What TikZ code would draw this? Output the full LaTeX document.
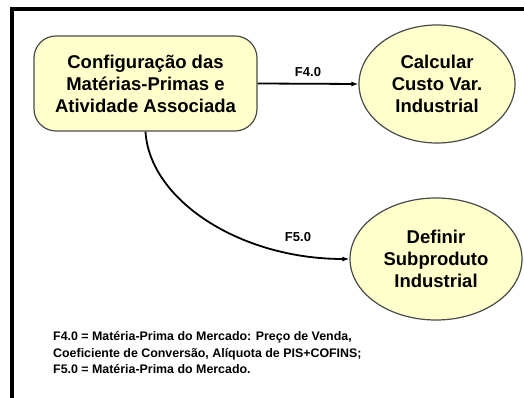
\documentclass[tikz,border=0pt]{standalone}
\usepackage{fontspec}
\setmainfont{Liberation Sans}
\usetikzlibrary{shapes.geometric,arrows.meta}
\definecolor{procfill}{HTML}{FFFFCC}
\definecolor{procline}{HTML}{4A4A4A}

\begin{document}
\begin{tikzpicture}[x=1pt,y=1pt,
    proc/.style={draw=procline,line width=1.2pt,fill=procfill,align=center,inner sep=0pt,
        font=\bfseries\fontsize{18.5}{22}\selectfont},
    flow/.style={line width=1.8pt,-{Latex[length=7pt,width=5pt]}},
    flowlabel/.style={font=\bfseries\fontsize{13}{15}\selectfont}]
        \useasboundingbox (0,0) rectangle (524,398);
        \draw[line width=4pt] (11.5,0) -- (11.5,389) -- (524,389);

	\node[proc,rectangle,rounded corners=22pt,minimum width=223pt,minimum height=95pt] (config) at (145.5,314.5)
	  {Configuração das\\Matérias-Primas e\\Atividade Associada};
	\node[proc,ellipse,minimum width=156pt,minimum height=118pt] (custo) at (437,314)
	  {Calcular\\Custo Var.\\Industrial};
	\node[proc,ellipse,minimum width=172pt,minimum height=122pt] (subprod) at (436,139)
	  {Definir\\Subproduto\\Industrial};

	\draw[flow] (config.east) -- (custo.west) node[flowlabel,midway,above=3pt] (f4) {F4.0};
	\draw[flow] (config.south) .. controls +(4,-68) and +(-110,0) .. (subprod.west);
	\node[flowlabel] (f5) at (298,161) {F5.0};

	\node[anchor=west,align=left,inner sep=0pt,font=\bfseries\fontsize{12.4}{16.5}\selectfont] (legenda) at (53,45)
	  {F4.0 = Matéria-Prima do Mercado: Preço de Venda,\\
	   Coeficiente de Conversão, Alíquota de PIS+COFINS;\\
	   F5.0 = Matéria-Prima do Mercado.};

\end{tikzpicture}
\end{document}
